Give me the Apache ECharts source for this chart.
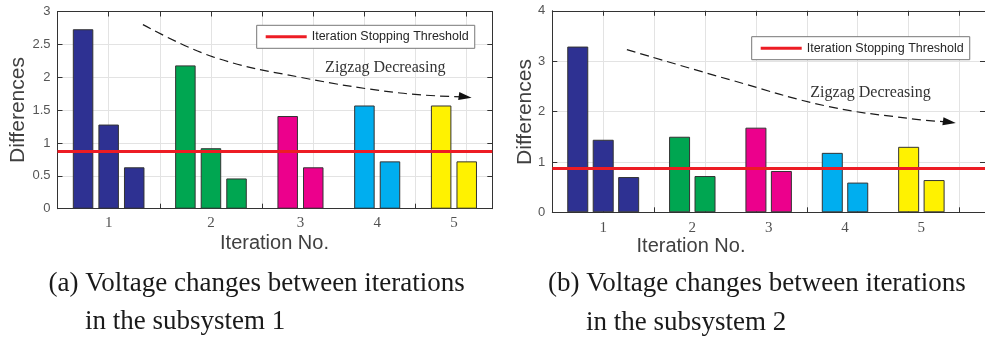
<!DOCTYPE html>
<html><head><meta charset="utf-8">
<script src="https://cdn.jsdelivr.net/npm/echarts@6/dist/echarts.min.js"></script>
<style>html,body{margin:0;padding:0;background:#fff;}#c{width:985px;height:338px;}</style>
</head><body><div id="c"></div>
<script>
// ---- data ----
const iterationLabels = ['1', '2', '3', '4', '5'];
const groupColors = ['#2E3192', '#00A651', '#EC008C', '#00AEEF', '#FFF200'];
const sub1Iteration = [1, 1, 1, 2, 2, 2, 3, 3, 4, 4, 5, 5];
const sub1Values = [2.73, 1.28, 0.63, 2.18, 0.92, 0.46, 1.41, 0.63, 1.57, 0.72, 1.57, 0.72];
const sub2Iteration = [1, 1, 1, 2, 2, 3, 3, 4, 4, 5, 5];
const sub2Values = [3.29, 1.44, 0.70, 1.50, 0.72, 1.68, 0.82, 1.18, 0.59, 1.30, 0.64];
const threshold1 = 0.87;
const threshold2 = 0.87;
const sub1YTicks = { min: 0, max: 3, interval: 0.5 };
const sub2YTicks = { min: 0, max: 4, interval: 1 };
const thresholdName = 'Iteration Stopping Threshold';
const trendText = 'Zigzag Decreasing';
// annotation curve (data coordinates: slot, value)
const trend1 = [[3.34, 2.80], [6.08, 2.31], [9.48, 2.00], [13.4, 1.76], [15.94, 1.70]];
const trend2 = [[2.93, 3.23], [6.99, 2.63], [10.85, 2.10], [14.07, 1.86], [15.6, 1.79]];

// ---- helpers ----
function slotPositions(groups) {
  const pos = []; let p = 0, prev = null;
  groups.forEach(g => { if (prev !== null && g !== prev) p++; p++; pos.push(p); prev = g; });
  return pos;
}
function groupCenters(groups, pos) {
  return iterationLabels.map((lab, k) => {
    const ps = pos.filter((_, i) => groups[i] === k + 1);
    return [ps.reduce((a, b) => a + b, 0) / ps.length, 0, lab];
  });
}
const pos1 = slotPositions(sub1Iteration);
const pos2 = slotPositions(sub2Iteration);
const XMAX = 17;

const SANS = '"Liberation Sans", Arial, sans-serif';
const SERIF = '"Liberation Serif", "Times New Roman", serif';
const gridLine = { show: true, lineStyle: { color: '#e3e3e3', width: 1 } };
const axisLineStyle = { show: true, onZero: false, lineStyle: { color: '#333', width: 1 } };

function xAxes(gridIndex) {
  const base = { type: 'value', gridIndex, min: 0, max: XMAX, interval: 2,
    axisLine: axisLineStyle, axisTick: { show: true, inside: true, length: 5, lineStyle: { color: '#333' } },
    axisLabel: { show: false } };
  return [Object.assign({}, base, { position: 'bottom', splitLine: gridLine }),
          Object.assign({}, base, { position: 'top', splitLine: { show: false } })];
}
function yAxes(gridIndex, t) {
  const base = { type: 'value', gridIndex, min: t.min, max: t.max, interval: t.interval,
    axisLine: axisLineStyle, axisTick: { show: true, inside: true, length: 5, lineStyle: { color: '#333' } } };
  return [Object.assign({}, base, { position: 'left', splitLine: gridLine,
            axisLabel: { show: true, margin: 7, color: '#555', fontSize: 13, fontFamily: SANS } }),
          Object.assign({}, base, { position: 'right', splitLine: { show: false }, axisLabel: { show: false } })];
}
function barSeries(xi, yi, pos, vals, groups, bw) {
  return { type: 'bar', xAxisIndex: xi, yAxisIndex: yi, barWidth: bw, z: 2,
    itemStyle: { borderColor: '#333', borderWidth: 1 },
    data: pos.map((x, i) => ({ value: [x, vals[i]], itemStyle: { color: groupColors[groups[i] - 1] } })) };
}
function thresholdSeries(xi, yi, th) {
  return { type: 'line', name: thresholdName, xAxisIndex: xi, yAxisIndex: yi, z: 5, symbol: 'none',
    itemStyle: { color: '#ED1C24' }, lineStyle: { color: '#ED1C24', width: 3 },
    data: [[0, th], [XMAX, th]] };
}
function tickLabelSeries(xi, yi, centers, off) {
  return { type: 'scatter', xAxisIndex: xi, yAxisIndex: yi, symbolSize: 0, silent: true, z: 6,
    label: { show: true, position: 'inside', offset: [0, off], formatter: p => p.value[2],
      fontFamily: SERIF, fontSize: 15, color: '#262626' },
    data: centers };
}
function trendSeries(xi, yi, pts) {
  return { type: 'line', xAxisIndex: xi, yAxisIndex: yi, smooth: 0.4, z: 7, silent: true,
    symbol: 'none', showSymbol: true, showAllSymbol: true,
    lineStyle: { color: '#1a1a1a', width: 1.2, type: [9, 5] },
    data: pts.map((p, i) => i === pts.length - 1
      ? { value: p, symbol: 'triangle', symbolSize: [8, 13], symbolRotate: -98, itemStyle: { color: '#111' } }
      : { value: p }) };
}
function legendBox(left, top) {
  return { data: [thresholdName], left, top, orient: 'horizontal', icon: 'rect', itemWidth: 41, itemHeight: 3,
    padding: [5, 6, 5, 9], borderColor: '#777', borderWidth: 1, backgroundColor: '#fff', selectedMode: false,
    textStyle: { fontFamily: SANS, fontSize: 12.5, color: '#262626' } };
}
function txt(x, y, text, font, opts, rot) {
  return { type: 'text', x, y, z: 100, rotation: rot || 0,
    style: Object.assign({ text, font, fill: '#262626', align: 'center', verticalAlign: 'middle' }, opts || {}) };
}

const chart = echarts.init(document.getElementById('c'), null, { renderer: 'canvas' });
chart.setOption({
  animation: false,
  backgroundColor: '#fff',
  grid: [
    { left: 57.5, top: 11.5, width: 434.8, height: 197.2 },
    { left: 552.3, top: 10.8, width: 440.3, height: 201.5 }
  ],
  xAxis: [...xAxes(0), ...xAxes(1)],
  yAxis: [...yAxes(0, sub1YTicks), ...yAxes(1, sub2YTicks)],
  legend: [legendBox(256.7, 25.3), legendBox(751.7, 36.7)],
  series: [
    barSeries(0, 0, pos1, sub1Values, sub1Iteration, 20.5),
    thresholdSeries(0, 0, threshold1),
    tickLabelSeries(0, 0, groupCenters(sub1Iteration, pos1), 14),
    trendSeries(0, 0, trend1),
    barSeries(2, 2, pos2, sub2Values, sub2Iteration, 21),
    thresholdSeries(2, 2, threshold2),
    tickLabelSeries(2, 2, groupCenters(sub2Iteration, pos2), 15.5),
    trendSeries(2, 2, trend2)
  ],
  graphic: [
    txt(18.3, 110, 'Differences', '21px ' + SANS, { fill: '#404040' }, Math.PI / 2),
    txt(525, 112, 'Differences', '21px ' + SANS, { fill: '#404040' }, Math.PI / 2),
    txt(274.5, 243.5, 'Iteration No.', '20px ' + SANS, { fill: '#404040' }),
    txt(691, 246.5, 'Iteration No.', '20px ' + SANS, { fill: '#404040' }),
    txt(385.3, 67.9, trendText, '16px ' + SERIF, { fill: '#333' }),
    txt(870.5, 93, trendText, '16px ' + SERIF, { fill: '#333' }),
    txt(48.5, 284.2, '(a) Voltage changes between iterations', '27px ' + SERIF, { align: 'left', fill: '#1a1a1a' }),
    txt(85, 321.5, 'in the subsystem 1', '27px ' + SERIF, { align: 'left', fill: '#1a1a1a' }),
    txt(548, 284.2, '(b) Voltage changes between iterations', '27px ' + SERIF, { align: 'left', fill: '#1a1a1a' }),
    txt(586, 322.5, 'in the subsystem 2', '27px ' + SERIF, { align: 'left', fill: '#1a1a1a' })
  ]
});
</script>
</body></html>
